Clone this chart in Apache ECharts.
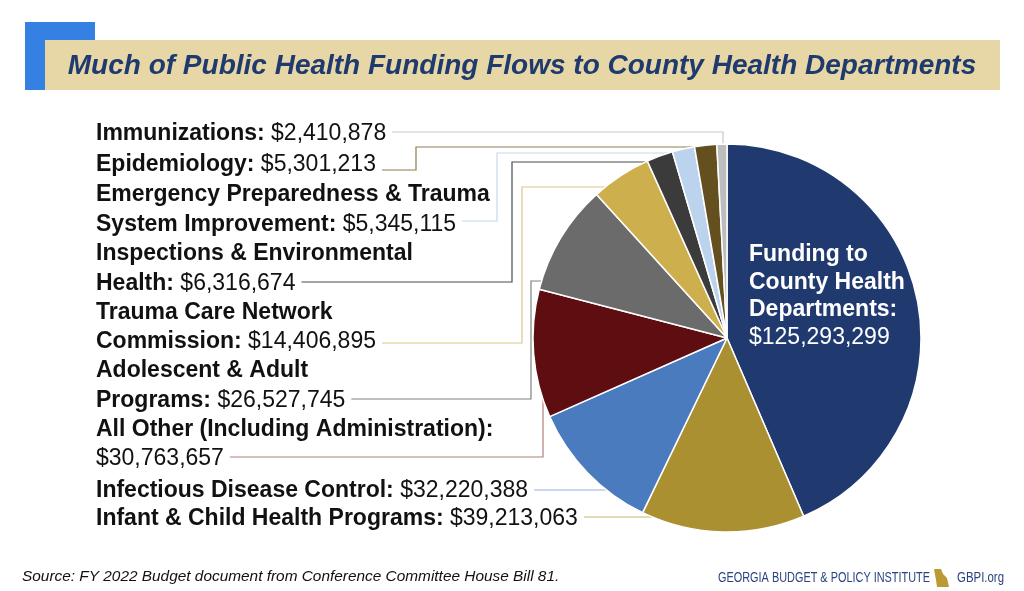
<!DOCTYPE html>
<html>
<head>
<meta charset="utf-8">
<script src="https://cdn.jsdelivr.net/npm/echarts@6/dist/echarts.min.js"></script>
<style>
  html, body { margin: 0; padding: 0; background: #fff; }
  #chart { width: 1024px; height: 591px; }
</style>
</head>
<body>
<div id="chart"></div>
<script>
  // data (clockwise from 12 o'clock)
  const categories = [
    'Funding to\nCounty Health\nDepartments',
    'Infant & Child Health Programs',
    'Infectious Disease Control',
    'All Other (Including Administration)',
    'Adolescent & Adult\nPrograms',
    'Trauma Care Network\nCommission',
    'Inspections & Environmental\nHealth',
    'Emergency Preparedness & Trauma\nSystem Improvement',
    'Epidemiology',
    'Immunizations'
  ];
  const values = [125293299, 39213063, 32220388, 30763657, 26527745, 14406895, 6316674, 5345115, 5301213, 2410878];
  const valueOnNewLine = [true, false, false, true, false, false, false, false, false, false];

  const sliceColors = ['#203a6f', '#ab9031', '#4a7bbe', '#5e0e10', '#6b6b6b', '#cdb04d', '#3b3b3b', '#bcd3ee', '#64501f', '#bdbdbd'];
  const lineColors = [null, '#c9b56c', '#8fb0dd', '#b27c7c', '#808080', '#dcc785', '#4a4a4a', '#c5d9ef', '#8f7d4f', '#c9c9c9'];

  // pie geometry
  const CX = 727, CY = 338, R = 194;
  const FONT = 'Liberation Sans, Arial, Helvetica, sans-serif';
  const FS = 23, LH = 29.5;
  const LABEL_X = 96;

  // leader layout per slice: last text line centre, line y, route
  const leader = [
    null,
    { textY: 519, lineY: 517, mode: 'h' },
    { textY: 490.5, lineY: 490, mode: 'h' },
    { textY: 459, lineY: 457, mode: 'v', vx: 543 },
    { textY: 400.5, lineY: 399, mode: 'elbow', vx: 531, hy: 281 },
    { textY: 342, lineY: 343, mode: 'elbow', vx: 522, hy: 187 },
    { textY: 283.5, lineY: 282, mode: 'elbow', vx: 512, hy: 162 },
    { textY: 224.5, lineY: 221, mode: 'elbow', vx: 497, hy: 153 },
    { textY: 165, lineY: 170, mode: 'elbow', vx: 416, hy: 147 },
    { textY: 133.5, lineY: 132, mode: 'v', vx: 723 }
  ];

  const fmt = v => '$' + v.toLocaleString('en-US');

  const ctx = document.createElement('canvas').getContext('2d');
  function textWidth(s, font) {
    ctx.font = font;
    return ctx.measureText(s).width;
  }
  function lastLineWidth(i) {
    if (valueOnNewLine[i]) return textWidth(fmt(values[i]), FS + 'px ' + FONT);
    const nameLines = categories[i].split('\n');
    return textWidth(nameLines[nameLines.length - 1] + ':', 'bold ' + FS + 'px ' + FONT) +
      textWidth(' ' + fmt(values[i]), FS + 'px ' + FONT);
  }
  const edgeX = y => CX - Math.sqrt(R * R - (y - CY) * (y - CY));
  const edgeY = (x, up) => CY + (up ? -1 : 1) * Math.sqrt(R * R - (x - CX) * (x - CX));

  // condensed footer text: squeeze to the logo width
  const logoText = 'GEORGIA BUDGET & POLICY INSTITUTE';
  const logoFont = '15px ' + FONT;
  const logoScale = 212 / textWidth(logoText, logoFont);
  const siteScale = 47 / textWidth('GBPI.org', logoFont);

  const chart = echarts.init(document.getElementById('chart'));

  const data = values.map((v, i) => {
    const item = {
      name: categories[i],
      value: v,
      itemStyle: { color: sliceColors[i] }
    };
    if (i === 0) {
      item.label = { position: 'inside', color: '#fff' };
      item.labelLine = { show: false };
    } else {
      item.labelLine = { show: true, lineStyle: { color: lineColors[i], width: 1.2 } };
    }
    return item;
  });

  const option = {
    backgroundColor: '#ffffff',
    animation: false,
    graphic: [
      { type: 'rect', shape: { x: 25, y: 22, width: 70, height: 68 }, style: { fill: '#3481e3' } },
      { type: 'rect', shape: { x: 45, y: 40, width: 955, height: 50 }, style: { fill: '#e8d7a6' } },
      {
        type: 'text', x: 522, y: 66,
        style: {
          text: 'Much of Public Health Funding Flows to County Health Departments',
          fill: '#1e3a6e', font: 'italic bold 28px ' + FONT,
          align: 'center', verticalAlign: 'middle'
        }
      },
      {
        type: 'text', x: 22, y: 577,
        style: {
          text: 'Source: FY 2022 Budget document from Conference Committee House Bill 81.',
          fill: '#111', font: 'italic 15.4px ' + FONT, align: 'left', verticalAlign: 'middle'
        }
      },
      {
        type: 'text', x: 718, y: 578, scaleX: logoScale,
        style: {
          text: logoText, fill: '#2b4481', font: logoFont,
          align: 'left', verticalAlign: 'middle'
        }
      },
      {
        type: 'polygon',
        shape: { points: [[934, 569], [941, 569], [943, 574], [947, 578], [949, 587], [937, 587], [936, 580]] },
        style: { fill: '#b99a35' }
      },
      {
        type: 'text', x: 957, y: 578, scaleX: siteScale,
        style: {
          text: 'GBPI.org', fill: '#2b4481', font: logoFont,
          align: 'left', verticalAlign: 'middle'
        }
      }
    ],
    series: [{
      type: 'pie',
      center: [CX, CY],
      radius: R,
      startAngle: 90,
      clockwise: true,
      avoidLabelOverlap: false,
      emphasis: { disabled: true },
      itemStyle: { borderColor: '#fff', borderWidth: 1.5 },
      label: {
        show: true,
        position: 'outside',
        overflow: 'none',
        fontFamily: FONT,
        fontSize: FS,
        color: '#111',
        lineHeight: LH,
        formatter: function (p) {
          const i = p.dataIndex;
          const sep = valueOnNewLine[i] ? '\n' : ' ';
          if (i === 0) return '{wb|' + categories[i] + ':}' + sep + '{wv|' + fmt(p.value) + '}';
          return '{b|' + categories[i] + ':}' + sep + '{v|' + fmt(p.value) + '}';
        },
        rich: {
          b: { fontFamily: FONT, fontSize: FS, fontWeight: 'bold', color: '#111', lineHeight: LH },
          v: { fontFamily: FONT, fontSize: FS, color: '#111', lineHeight: LH },
          wb: { fontFamily: FONT, fontSize: FS, fontWeight: 'bold', color: '#fff', lineHeight: 27.5 },
          wv: { fontFamily: FONT, fontSize: FS, color: '#fff', lineHeight: 27.5 }
        }
      },
      labelLine: { show: true, smooth: false },
      labelLayout: function (params) {
        const i = params.dataIndex;
        if (i === 0) {
          return { x: 749, y: 241, align: 'left', verticalAlign: 'top' };
        }
        const L = leader[i];
        const sx = LABEL_X + lastLineWidth(i) + 6;
        let pts;
        if (L.mode === 'h') {
          pts = [[edgeX(L.lineY), L.lineY], [sx, L.lineY]];
        } else if (L.mode === 'v') {
          pts = [[L.vx, edgeY(L.vx, L.lineY < CY)], [L.vx, L.lineY], [sx, L.lineY]];
        } else {
          pts = [[edgeX(L.hy), L.hy], [L.vx, L.hy], [L.vx, L.lineY], [sx, L.lineY]];
        }
        return {
          x: LABEL_X,
          y: L.textY + LH / 2,
          align: 'left',
          verticalAlign: 'bottom',
          labelLinePoints: pts
        };
      },
      data: data
    }]
  };
  chart.setOption(option);
</script>
</body>
</html>
